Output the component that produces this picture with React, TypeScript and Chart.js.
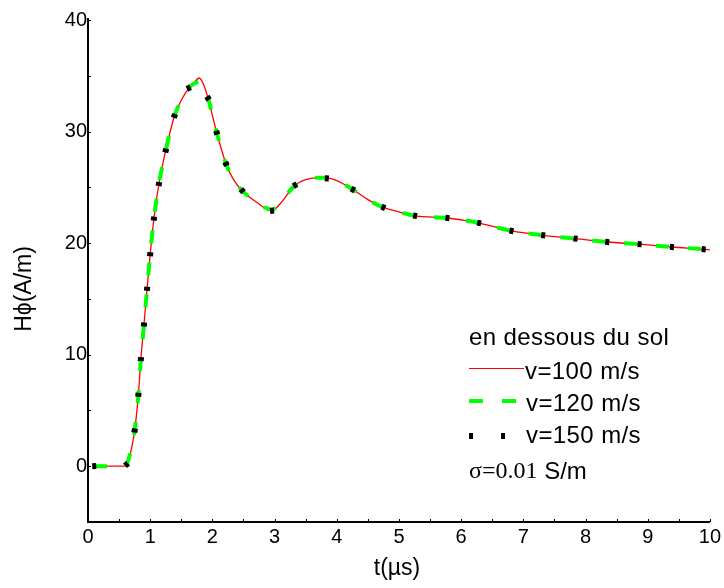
import React, { useEffect, useRef } from "react";
import { Chart, registerables } from "chart.js";

Chart.register(...registerables);

// ---- data ----
const tLine = [0.1, 0.3, 0.5, 0.6, 0.65, 0.7, 0.75, 0.81, 0.85, 0.9, 0.95, 1.0, 1.06, 1.14, 1.25, 1.39, 1.5, 1.62, 1.72, 1.79, 1.86, 1.93, 2.07, 2.22, 2.35, 2.48, 2.7, 2.96, 3.1, 3.33, 3.5, 3.67, 3.84, 4.0, 4.26, 4.5, 4.75, 5.0, 5.26, 5.78, 6.29, 6.81, 7.32, 7.84, 8.35, 8.87, 9.39, 9.9, 10.0];
const h100 = [0, 0, 0, 0, 0.5, 1.6, 3.2, 6.4, 9.6, 12.7, 15.9, 19.0, 22.2, 25.3, 28.3, 31.4, 32.8, 33.9, 34.5, 34.8, 34.2, 33.0, 29.9, 27.1, 25.6, 24.7, 23.7, 22.9, 23.6, 25.2, 25.7, 25.85, 25.85, 25.6, 24.8, 23.9, 23.2, 22.8, 22.45, 22.25, 21.8, 21.1, 20.7, 20.4, 20.1, 19.9, 19.65, 19.45, 19.4];
const h120 = [0, 0, 0, 0, 0.6, 1.7, 3.2, 6.4, 9.6, 12.7, 15.9, 19.0, 22.2, 25.3, 28.3, 31.4, 32.8, 33.9, 34.35, 34.45, 34.1, 33.0, 29.9, 27.1, 25.6, 24.7, 23.7, 23.0, 23.7, 25.2, 25.7, 25.85, 25.85, 25.6, 24.8, 23.9, 23.2, 22.8, 22.45, 22.25, 21.8, 21.1, 20.7, 20.4, 20.1, 19.9, 19.65, 19.45, 19.4];
const tMark = [0.1, 0.62, 0.75, 0.81, 0.85, 0.9, 0.95, 1.0, 1.06, 1.14, 1.25, 1.39, 1.62, 1.93, 2.07, 2.22, 2.48, 2.96, 3.33, 3.84, 4.26, 4.75, 5.26, 5.78, 6.29, 6.81, 7.32, 7.84, 8.35, 8.87, 9.39, 9.9];
const h150 = [0, 0.15, 3.2, 6.4, 9.6, 12.7, 15.9, 19.0, 22.2, 25.3, 28.3, 31.4, 33.9, 33.0, 29.9, 27.1, 24.7, 22.9, 25.2, 25.8, 24.8, 23.2, 22.45, 22.25, 21.8, 21.1, 20.7, 20.4, 20.1, 19.9, 19.65, 19.45];

const xTicks = [0, 1, 2, 3, 4, 5, 6, 7, 8, 9, 10];
const yTicks = [0, 10, 20, 30, 40];
const seriesLabels = ["v=100 m/s", "v=120 m/s", "v=150 m/s"];
const legendTitle = "en dessous du sol";
const sigmaText = "σ=0.01";
const sigmaUnit = " S/m";
const xTitle = "t(µs)";
const yTitle = "Hϕ(A/m)";

const SANS = "'Liberation Sans', Arial, sans-serif";
const SERIF = "'Liberation Serif', 'Times New Roman', serif";

function makeMarker(): HTMLCanvasElement {
  const c = document.createElement("canvas");
  c.width = 4;
  c.height = 6;
  const g = c.getContext("2d")!;
  g.fillStyle = "#000";
  g.fillRect(0, 0, 4, 6);
  return c;
}

const decor = {
  id: "decor",
  afterDraw(chart: any) {
    const { ctx, chartArea: ca, scales } = chart;
    const x = scales.x;
    const y = scales.y;
    ctx.save();
    // axes
    ctx.strokeStyle = "#000";
    ctx.lineWidth = 2;
    ctx.beginPath();
    ctx.moveTo(ca.left, ca.top - 2);
    ctx.lineTo(ca.left, ca.bottom);
    ctx.lineTo(ca.right, ca.bottom);
    ctx.stroke();
    ctx.lineWidth = 1;
    ctx.beginPath();
    for (let v = -5; v <= 40; v += 5) {
      const py = Math.round(y.getPixelForValue(v)) + 0.5;
      ctx.moveTo(ca.left, py);
      ctx.lineTo(ca.left + 3, py);
    }
    for (let t = 0; t <= 10; t += 0.5) {
      const px = Math.round(x.getPixelForValue(t)) + 0.5;
      ctx.moveTo(px, ca.bottom);
      ctx.lineTo(px, ca.bottom - 3);
    }
    ctx.stroke();

    // axis titles
    ctx.fillStyle = "#000";
    ctx.font = `23px ${SANS}`;
    ctx.textAlign = "center";
    ctx.textBaseline = "middle";
    ctx.fillText(xTitle, 397, 569);
    ctx.save();
    ctx.translate(25, 289);
    ctx.rotate(-Math.PI / 2);
    ctx.fillText(yTitle, 0, 0);
    ctx.restore();

    // legend
    const lx = 469;
    const tx = 525;
    ctx.textAlign = "left";
    ctx.font = `24px ${SANS}`;
    (ctx as any).letterSpacing = "0.4px";
    ctx.fillText(legendTitle, lx, 338);
    // red
    ctx.strokeStyle = "#ff0000";
    ctx.lineWidth = 1;
    ctx.beginPath();
    ctx.moveTo(lx, 368.5);
    ctx.lineTo(tx - 1, 368.5);
    ctx.stroke();
    ctx.fillText(seriesLabels[0], tx, 372);
    // green
    ctx.strokeStyle = "#00ff00";
    ctx.lineWidth = 4;
    ctx.beginPath();
    ctx.moveTo(lx, 401);
    ctx.lineTo(lx + 14, 401);
    ctx.moveTo(lx + 33, 401);
    ctx.lineTo(lx + 47, 401);
    ctx.stroke();
    ctx.fillText(seriesLabels[1], tx + 1, 404);
    // black
    ctx.fillStyle = "#000";
    ctx.fillRect(lx, 433, 4, 6);
    ctx.fillRect(lx + 32, 433, 4, 6);
    ctx.fillText(seriesLabels[2], tx + 1, 436);
    // sigma
    ctx.font = `24px ${SERIF}`;
    (ctx as any).letterSpacing = "0px";
    ctx.fillText(sigmaText, lx, 472);
    const w = ctx.measureText(sigmaText).width;
    ctx.font = `24px ${SANS}`;
    ctx.fillText(sigmaUnit, lx + w, 472);
    ctx.restore();
  },
};

export default function App() {
  const ref = useRef<HTMLCanvasElement | null>(null);
  useEffect(() => {
    const canvas = ref.current!;
    const marker = makeMarker();
    const rot = (c: any) => {
      const i = c.dataIndex;
      const ch = c.chart;
      const xs = ch.scales.x;
      const ys = ch.scales.y;
      if (!xs || !ys) return 0;
      const a = Math.max(0, i - 1);
      const b = Math.min(tMark.length - 1, i + 1);
      const dx = xs.getPixelForValue(tMark[b]) - xs.getPixelForValue(tMark[a]);
      const dy = ys.getPixelForValue(h150[b]) - ys.getPixelForValue(h150[a]);
      return (Math.atan2(dy, dx) * 180) / Math.PI;
    };
    const chart = new Chart(canvas, {
      type: "line",
      data: {
        datasets: [
          {
            label: seriesLabels[0],
            data: tLine.map((t, i) => ({ x: t, y: h100[i] })),
            borderColor: "#ff0000",
            borderWidth: 1.3,
            pointRadius: 0,
            cubicInterpolationMode: "monotone",
            fill: false,
            order: 3,
          },
          {
            label: seriesLabels[1],
            data: tLine.map((t, i) => ({ x: t, y: h120[i] })),
            borderColor: "#00ff00",
            borderWidth: 4,
            borderDash: [13, 19],
            borderCapStyle: "butt",
            pointRadius: 0,
            cubicInterpolationMode: "monotone",
            fill: false,
            order: 2,
          },
          {
            label: seriesLabels[2],
            data: tMark.map((t, i) => ({ x: t, y: h150[i] })),
            showLine: false,
            pointStyle: marker as any,
            pointRadius: 3,
            pointRotation: rot as any,
            backgroundColor: "#000",
            borderColor: "#000",
            order: 1,
          },
        ],
      },
      options: {
        animation: false,
        responsive: false,
        devicePixelRatio: 1,
        events: [],
        layout: { padding: { top: 20, right: 12, left: 0, bottom: 0 } },
        plugins: { legend: { display: false }, tooltip: { enabled: false } },
        scales: {
          x: {
            type: "linear",
            min: 0,
            max: 10,
            afterBuildTicks: (s: any) => {
              s.ticks = xTicks.map((v) => ({ value: v }));
            },
            afterFit: (s: any) => {
              s.height = 66;
            },
            grid: { display: false, drawTicks: false },
            border: { display: false },
            ticks: {
              color: "#000",
              font: { size: 20, family: SANS },
              padding: 3,
              maxRotation: 0,
              autoSkip: false,
            },
          },
          y: {
            type: "linear",
            min: -5,
            max: 40,
            afterBuildTicks: (s: any) => {
              s.ticks = yTicks.map((v) => ({ value: v }));
            },
            afterFit: (s: any) => {
              s.width = 88;
            },
            grid: { display: false, drawTicks: false },
            border: { display: false },
            ticks: {
              color: "#000",
              font: { size: 20, family: SANS },
              padding: 1,
              autoSkip: false,
            },
          },
        },
      },
      plugins: [decor],
    });
    return () => chart.destroy();
  }, []);
  return (
    <div style={{ position: "fixed", left: 0, top: 0, width: 724, height: 588, background: "#fff" }}>
      <canvas ref={ref} width={724} height={588} style={{ display: "block" }} />
    </div>
  );
}
